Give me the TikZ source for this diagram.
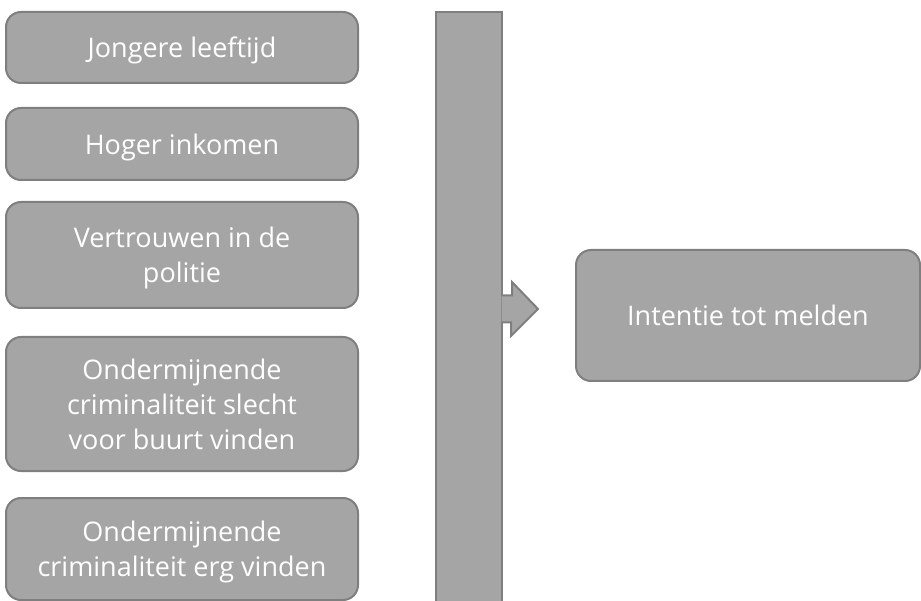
\documentclass[tikz,border=0pt]{standalone}
\usepackage{fontspec}
\setmainfont{Open Sans}
\usepackage{tikz}
\usetikzlibrary{positioning, calc}
\definecolor{boxfill}{HTML}{A5A5A5}
\definecolor{boxline}{HTML}{7F7F7F}
\tikzset{
  box/.style={draw=boxline, fill=boxfill, line width=2pt, rounded corners=15pt,
    text=white, align=center, minimum width=352pt, text depth=0pt,
    font=\fontsize{27}{35}\selectfont},
  barbox/.style={draw=boxline, fill=boxfill, line width=2pt, minimum width=66pt, minimum height=594pt},
  arrowshape/.style={draw=boxline, fill=boxfill, line width=2pt, line join=miter}
}
\begin{document}
\begin{tikzpicture}[x=1pt,y=-1pt]
\useasboundingbox (0,0) rectangle (921,601);
\node[box, minimum height=71pt] (age) at (182,47.5) {Jongere leeftijd};
\node[box, minimum height=72pt] (income) at (182,144) {Hoger inkomen};
\node[box, minimum height=106pt] (trust) at (182,255) {Vertrouwen in de\\politie};
\node[box, minimum height=134pt] (bad) at (182,404) {Ondermijnende\\criminaliteit slecht\\voor buurt vinden};
\node[box, minimum height=102pt] (serious) at (182,549) {Ondermijnende\\criminaliteit erg vinden};
\node[barbox] (bar) at (469,309) {};
\node[box, minimum width=344pt, minimum height=131pt] (intent) at (748,315.5) {Intentie tot melden};
\coordinate (tip) at (538,309);
\draw[arrowshape] ($(bar.east)+(-1.5,-13.5)$) -- ++(10.5,0) -- ++(0,-13.5) -- (tip)
  -- ++(-27,27) -- ++(0,-13.5) -- ($(bar.east)+(-1.5,13.5)$);
\end{tikzpicture}
\end{document}
